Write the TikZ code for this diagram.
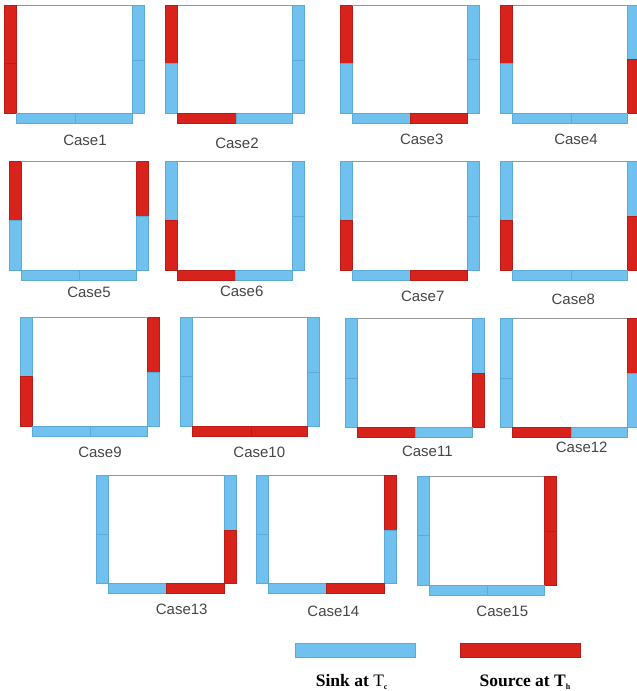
\documentclass[tikz,border=0pt]{standalone}
\usepackage{fontspec}
\setmainfont{Liberation Serif}
\newfontfamily\arialf{Liberation Sans}
\definecolor{cS}{RGB}{112,193,237}
\definecolor{cSE}{RGB}{92,170,215}
\definecolor{cH}{RGB}{215,35,27}
\definecolor{cHE}{RGB}{185,28,22}
\definecolor{labgray}{RGB}{70,70,70}
\definecolor{topgray}{RGB}{150,150,150}
\tikzset{
  sinkseg/.style={fill=cS,draw=cSE,line width=0.5pt},
  srcseg/.style={fill=cH,draw=cHE,line width=0.5pt},
  topline/.style={draw=topgray,line width=0.9pt},
  lbl/.style={font=\arialf\fontsize{15}{18}\selectfont,text=labgray,inner sep=0pt},
  leg/.style={font=\bfseries\fontsize{17.5}{20}\selectfont,text=black,inner sep=0pt,anchor=base}
}
\newcommand\legsub[1]{\raisebox{-2.5pt}{\fontsize{8}{8}\selectfont #1}}
\def\csetcol#1#2#3#4#5#6{\def\cLT{#1}\def\cLB{#2}\def\cRT{#3}\def\cRB{#4}\def\cBL{#5}\def\cBR{#6}}
\newcommand\seg[3]{\if#1h\path[srcseg] #2 rectangle #3;\else\path[sinkseg] #2 rectangle #3;\fi}
% #1 L, #2 R, #3 T, #4 B, #5 left split, #6 right split, #7 bottom split, #8 colours
\newcommand\cbox[8]{%
  \csetcol#8%
  \seg{\cLT}{(#1,#3)}{(#1+12,#5)}%
  \seg{\cLB}{(#1,#5)}{(#1+12,#4)}%
  \seg{\cRT}{(#2,#3)}{(#2+12,#6)}%
  \seg{\cRB}{(#2,#6)}{(#2+12,#4)}%
  \seg{\cBL}{(#1+12,#4)}{(#7,#4+10)}%
  \seg{\cBR}{(#7,#4)}{(#2,#4+10)}%
  \path[topline] (#1+12,#3) -- (#2,#3);%
}
\begin{document}
\begin{tikzpicture}[x=1pt,y=-1pt]
\useasboundingbox[fill=white] (0,0) rectangle (637,691);
% row 1
\cbox{4.7}{132}{5.3}{113}{63}{60}{75}{hhssss}
\cbox{165.7}{292.3}{5.3}{113}{63}{60}{236}{hssshs}
\cbox{340}{467.7}{5.3}{113}{63}{59}{410.7}{hssssh}
\cbox{500.7}{627.3}{5.3}{113}{63}{59}{571.3}{hsshss}
% row 2
\cbox{9}{136.5}{161.7}{270}{220.3}{216.7}{79.7}{hshsss}
\cbox{165.7}{292.3}{161.7}{270}{220.3}{216.7}{235.7}{shsshs}
\cbox{340}{467.7}{161.7}{270.7}{220.3}{216.7}{410.7}{shsssh}
\cbox{500.7}{627.3}{161.7}{270.7}{220.3}{216.7}{571.3}{shshss}
% row 3
\cbox{20.7}{147.7}{317.3}{426.3}{376}{372.3}{90.3}{shhsss}
\cbox{180.7}{307.3}{317.3}{426.3}{376.7}{372.3}{251}{sssshh}
\cbox{345}{472.5}{318.3}{427.3}{378.3}{373.7}{415.3}{ssshhs}
\cbox{500.7}{627.3}{318.3}{427.3}{378.3}{373.7}{571}{sshshs}
% row 4
\cbox{96.7}{224}{475.7}{583.3}{534}{530}{166.7}{ssshsh}
\cbox{256.7}{384}{475.7}{583.3}{534}{530}{326.7}{sshssh}
\cbox{417}{544}{476.7}{585}{535}{531}{487.7}{sshhss}
% labels
\node[lbl] (c1) at (85,140) {Case1};
\node[lbl] (c2) at (237,143) {Case2};
\node[lbl] (c3) at (421.7,139) {Case3};
\node[lbl] (c4) at (576,139) {Case4};
\node[lbl] (c5) at (89,292.7) {Case5};
\node[lbl] (c6) at (241.7,291) {Case6};
\node[lbl] (c7) at (422.7,296.7) {Case7};
\node[lbl] (c8) at (573.3,299) {Case8};
\node[lbl] (c9) at (100,452.7) {Case9};
\node[lbl] (c10) at (259.3,452.7) {Case10};
\node[lbl] (c11) at (427.3,451.7) {Case11};
\node[lbl] (c12) at (581.7,447.7) {Case12};
\node[lbl] (c13) at (181.7,609.3) {Case13};
\node[lbl] (c14) at (333.3,611.7) {Case14};
\node[lbl] (c15) at (502.3,611.7) {Case15};
% legend
\path[sinkseg] (295,643.3) rectangle (415,657.3);
\path[srcseg] (460,643.3) rectangle (580.7,657.3);
\node[leg] (lsink) at (351.7,686.5) {Sink at {\mdseries T}\legsub{c}};
\node[leg] (lsrc) at (525,686.5) {Source at T\legsub{h}};
\end{tikzpicture}
\end{document}
